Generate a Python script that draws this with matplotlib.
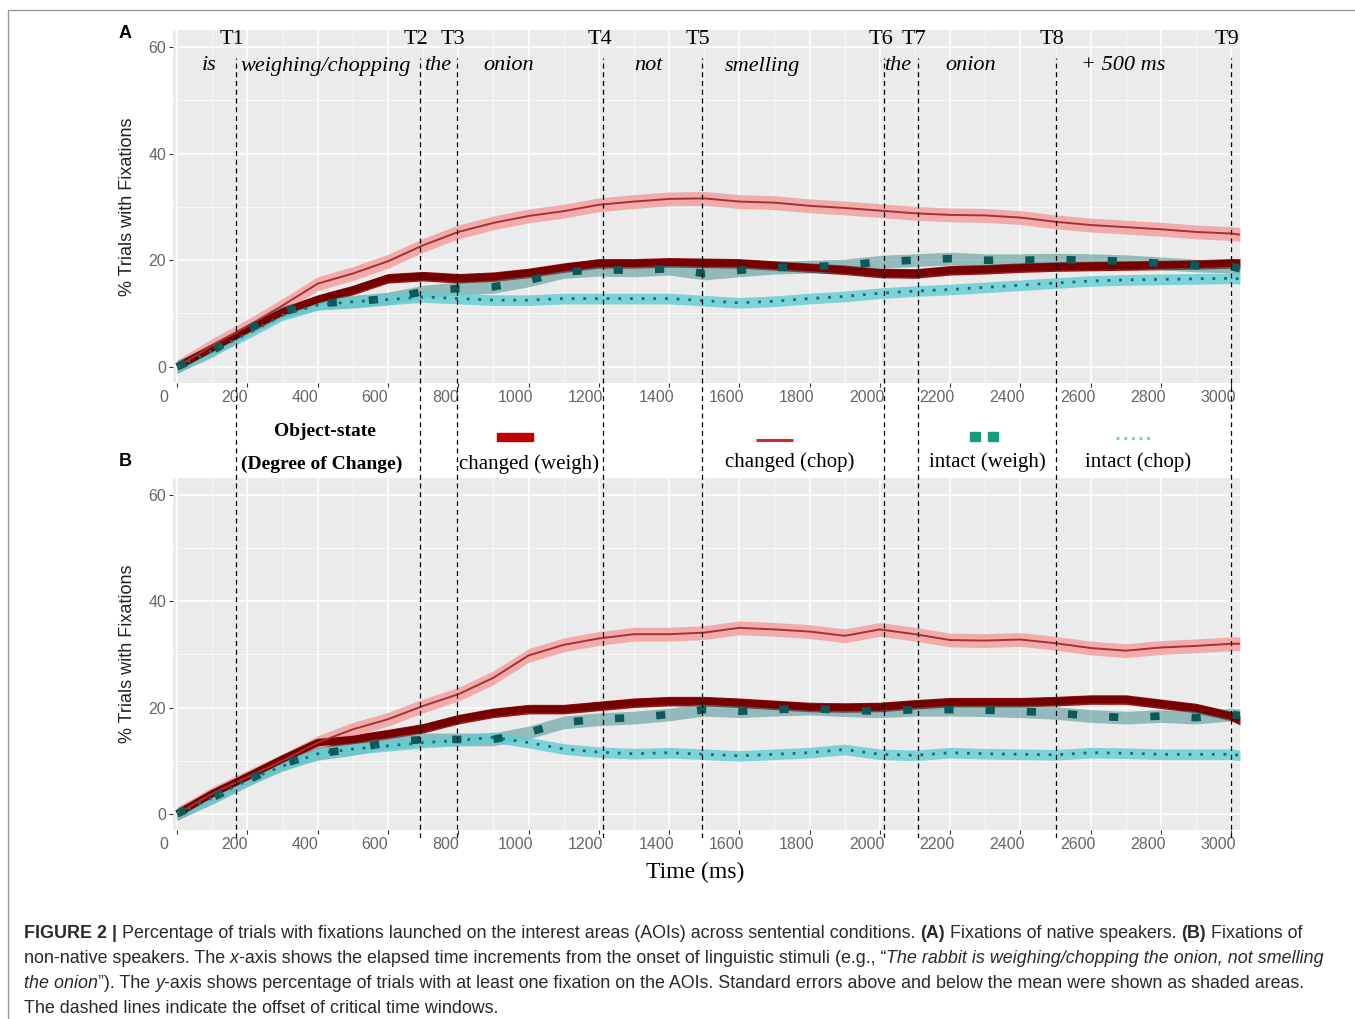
import matplotlib
matplotlib.use("Agg")
import matplotlib.pyplot as plt
import matplotlib.transforms as mtransforms
from matplotlib.patches import Rectangle

W, H = 1355, 1019

# time axis (ms)
time_ms = [0, 100, 200, 300, 400, 500, 600, 700, 800, 900, 1000, 1100, 1200, 1300,
           1400, 1500, 1600, 1700, 1800, 1900, 2000, 2100, 2200, 2300, 2400, 2500,
           2600, 2700, 2800, 2900, 3000, 3025]

# Panel A - native speakers (% trials with fixations)
a_changed_weigh = [0, 3.5, 7.0, 10.3, 12.6, 14.4, 16.6, 17.0, 16.6, 16.9, 17.6, 18.6, 19.4, 19.4,
                   19.6, 19.5, 19.4, 19.0, 18.6, 18.2, 17.6, 17.5, 18.1, 18.3, 18.6, 18.8,
                   18.9, 19.0, 19.1, 19.2, 19.4, 19.4]
a_changed_chop = [0, 4.0, 7.6, 11.5, 15.6, 17.5, 19.8, 22.8, 25.3, 27.0, 28.3, 29.2, 30.4, 31.0,
                  31.5, 31.6, 31.0, 30.8, 30.2, 29.8, 29.3, 28.8, 28.5, 28.4, 28.0, 27.2,
                  26.6, 26.2, 25.8, 25.3, 25.0, 24.8]
a_intact_weigh = [0, 3.0, 6.9, 10.3, 11.9, 12.2, 12.8, 14.1, 14.7, 15.0, 16.2, 17.8, 18.2, 18.1,
                  18.4, 17.5, 18.1, 18.6, 18.8, 19.0, 19.7, 20.0, 20.3, 20.0, 20.0, 20.1,
                  20.0, 19.8, 19.4, 19.0, 18.8, 18.4]
a_intact_chop = [0, 3.0, 6.2, 9.7, 11.6, 12.2, 12.6, 13.1, 12.8, 12.5, 12.5, 12.8, 12.8, 12.8,
                 12.8, 12.4, 12.0, 12.3, 12.8, 13.2, 13.8, 14.2, 14.5, 14.9, 15.3, 15.7,
                 16.1, 16.3, 16.4, 16.5, 16.6, 16.5]

# Panel B - non-native speakers
b_changed_weigh = [0, 3.8, 7.0, 10.3, 13.4, 14.0, 15.0, 16.1, 17.8, 19.0, 19.7, 19.7, 20.3, 20.9,
                   21.2, 21.2, 20.9, 20.5, 20.1, 20.0, 20.1, 20.6, 21.0, 21.0, 21.0, 21.2,
                   21.5, 21.5, 20.7, 19.9, 18.4, 17.6]
b_changed_chop = [0, 3.8, 6.9, 10.0, 13.4, 15.9, 17.8, 20.3, 22.5, 25.6, 29.8, 31.8, 33.0, 33.8,
                  33.8, 34.1, 35.0, 34.7, 34.3, 33.5, 34.7, 33.8, 32.7, 32.6, 32.8, 32.1,
                  31.2, 30.7, 31.3, 31.6, 32.0, 32.0]
b_intact_weigh = [0, 3.0, 6.3, 9.4, 11.3, 12.2, 13.4, 14.0, 14.0, 14.0, 15.3, 17.2, 17.8, 18.1,
                  18.7, 19.6, 19.3, 19.6, 19.8, 19.5, 19.3, 19.6, 19.6, 19.5, 19.3, 19.0,
                  18.4, 18.1, 18.4, 18.1, 18.7, 18.5]
b_intact_chop = [0, 3.0, 6.3, 9.0, 11.3, 12.2, 12.8, 13.4, 13.8, 14.4, 13.4, 12.2, 11.6, 11.3,
                 11.5, 11.2, 10.9, 11.2, 11.5, 12.1, 11.2, 11.0, 11.5, 11.3, 11.2, 11.1,
                 11.5, 11.4, 11.2, 11.2, 11.2, 11.0]

# standard errors (half width of shaded band)
se = {"changed (weigh)": 0.9, "changed (chop)": 1.3, "intact (weigh)": 1.2, "intact (chop)": 1.0}

series_names = ["changed (weigh)", "changed (chop)", "intact (weigh)", "intact (chop)"]
panel_a = [a_changed_weigh, a_changed_chop, a_intact_weigh, a_intact_chop]
panel_b = [b_changed_weigh, b_changed_chop, b_intact_weigh, b_intact_chop]

# critical time windows (offsets, ms) and sentence words
window_ms = [166, 690, 796, 1213, 1494, 2013, 2109, 2502, 2998]
window_labels = ["T1", "T2", "T3", "T4", "T5", "T6", "T7", "T8", "T9"]
words = ["is", "weighing/chopping", "the", "onion", "not", "smelling", "the", "onion", "+ 500 ms"]
word_ms = [92, 422, 741, 943, 1341, 1665, 2049, 2257, 2692]

styles = {
    "changed (weigh)": dict(band="#8b0000", balpha=0.9, color="#760000", lw=5.2, ls="-"),
    "changed (chop)": dict(band="#f4a0a0", balpha=0.85, color="#a53232", lw=1.4, ls="-"),
    "intact (weigh)": dict(band="#3a8a8a", balpha=0.5, color="#0d5858", lw=5.5, ls=(0, (1.2, 4.2))),
    "intact (chop)": dict(band="#5fcdd3", balpha=0.8, color="#1d6b6b", lw=2.0, ls=(0, (1, 3.2))),
}

XLIM = (-12, 3025)
YLIM = (-3.05, 63.2)
serif = ["Liberation Serif", "DejaVu Serif"]
sans = ["Liberation Sans", "DejaVu Sans"]


def fx(px):
    return px / W


def fy(py):
    return 1 - py / H


fig = plt.figure(figsize=(W / 100, H / 100), dpi=100)
fig.patch.set_facecolor("white")

left, right = 173, 1240
panels = [(30, 383, panel_a), (478, 830, panel_b)]
axes = []
for top, bot, data in panels:
    ax = fig.add_axes([fx(left), fy(bot), fx(right) - fx(left), fy(top) - fy(bot)])
    ax.set_facecolor("#ebebeb")
    for name, vals in zip(series_names, data):
        st = styles[name]
        lo = [v - se[name] for v in vals]
        hi = [v + se[name] for v in vals]
        ax.fill_between(time_ms, lo, hi, color=st["band"], alpha=st["balpha"], lw=0)
        ax.plot(time_ms, vals, color=st["color"], lw=st["lw"], ls=st["ls"],
                solid_capstyle="butt")
    ax.set_xlim(*XLIM)
    ax.set_ylim(*YLIM)
    ax.set_xticks(range(0, 3001, 200))
    ax.set_xticks(range(100, 3001, 200), minor=True)
    ax.set_yticks([0, 20, 40, 60])
    ax.set_yticks([10, 30, 50], minor=True)
    ax.grid(which="major", color="white", lw=1.1)
    ax.grid(which="minor", color="white", lw=0.5)
    ax.set_axisbelow(True)
    for s in ax.spines.values():
        s.set_visible(False)
    ax.tick_params(which="major", length=3, width=0.8, color="#333333",
                   labelcolor="#666666", labelsize=11.5, pad=2)
    ax.tick_params(which="minor", length=0)
    for lab in ax.get_xticklabels():
        lab.set_fontfamily(sans)
    for lab in ax.get_yticklabels():
        lab.set_fontfamily(sans)
    ax.set_ylabel("% Trials with Fixations", fontsize=13, color="#222222",
                  family=sans, labelpad=9)
    # labels sit a little left of their tick marks in the original
    off = mtransforms.ScaledTranslation(-13 / 100, 0, fig.dpi_scale_trans)
    for lab in ax.get_xticklabels():
        lab.set_transform(lab.get_transform() + off)
    axes.append(ax)

# dashed window lines across both panels
ax_v = fig.add_axes([fx(left), fy(838), fx(right) - fx(left), fy(58) - fy(838)], zorder=5)
ax_v.patch.set_visible(False)
ax_v.axis("off")
ax_v.set_xlim(*XLIM)
ax_v.set_ylim(0, 1)
ax_v.vlines(window_ms, 0, 1, colors="black", lw=0.9, linestyles=(0, (4, 3)))

blend = mtransforms.blended_transform_factory(ax_v.transData, fig.transFigure)
for t, lab in zip(window_ms, window_labels):
    ax_v.text(t - 11, fy(40), lab, transform=blend, ha="center", va="center",
              fontsize=16, family=serif)
for t, w in zip(word_ms, words):
    ax_v.text(t, fy(66), w, transform=blend, ha="center", va="center",
              fontsize=16, family=serif, style="italic")

# overlay in pixel coordinates for legend, panel tags, caption and frame
ax_f = fig.add_axes([0, 0, 1, 1], zorder=6)
ax_f.patch.set_visible(False)
ax_f.axis("off")
ax_f.set_xlim(0, W)
ax_f.set_ylim(H, 0)

ax_f.plot([8, 8, W], [H, 10, 10], color="#9a9a9a", lw=1)

ax_f.text(125, 33, "A", ha="center", va="center", fontsize=13, weight="bold", family=sans)
ax_f.text(125, 462, "B", ha="center", va="center", fontsize=13, weight="bold", family=sans)

ax_f.text(325, 431, "Object-state", ha="center", va="center", fontsize=14,
          weight="bold", family=serif)
ax_f.text(322, 464, "(Degree of Change)", ha="center", va="center", fontsize=14,
          weight="bold", family=serif)

key_color = {"changed (weigh)": "#c00000", "changed (chop)": "#d0282a",
             "intact (weigh)": "#179c7d", "intact (chop)": "#80d6c4"}
label_pos = {"changed (weigh)": (529, 464), "changed (chop)": (790, 462),
             "intact (weigh)": (987, 462), "intact (chop)": (1138, 462)}
ax_f.add_patch(Rectangle((497, 433), 36, 8, color=key_color["changed (weigh)"]))
ax_f.plot([756, 793], [440, 440], color=key_color["changed (chop)"], lw=2.2,
          solid_capstyle="butt")
ax_f.add_patch(Rectangle((970, 432), 10, 9, color=key_color["intact (weigh)"]))
ax_f.add_patch(Rectangle((988, 432), 10, 9, color=key_color["intact (weigh)"]))
ax_f.plot([1116, 1150], [438, 438], color=key_color["intact (chop)"], lw=2.2,
          ls=(0, (1, 1.5)))
for name in series_names:
    x, y = label_pos[name]
    ax_f.text(x, y, name, ha="center", va="center", fontsize=15, family=serif)

ax_f.text(695, 872, "Time (ms)", ha="center", va="center", fontsize=17, family=serif)

# caption with mixed styles
renderer = fig.canvas.get_renderer()
cap_font = dict(fontsize=12.9, family=["Liberation Sans", "DejaVu Sans"], color="#2a2a2a")


def width_of(s, **kw):
    t1 = ax_f.text(0, 0, s + "|", **kw)
    t2 = ax_f.text(0, 0, "|", **kw)
    w = t1.get_window_extent(renderer).width - t2.get_window_extent(renderer).width
    t1.remove()
    t2.remove()
    return w


def caption_line(y, parts):
    x = 24
    for s, sty in parts:
        kw = dict(cap_font)
        if "b" in sty:
            kw["weight"] = "bold"
        if "i" in sty:
            kw["style"] = "italic"
        ax_f.text(x, y, s, va="baseline", ha="left", **kw)
        x += width_of(s, **kw)


caption_line(938, [("FIGURE 2 | ", "b"),
                   ("Percentage of trials with fixations launched on the interest areas (AOIs) "
                    "across sentential conditions. ", ""),
                   ("(A)", "b"), (" Fixations of native speakers. ", ""),
                   ("(B)", "b"), (" Fixations of", "")])
caption_line(963, [("non-native speakers. The ", ""), ("x", "i"),
                   ("-axis shows the elapsed time increments from the onset of linguistic "
                    "stimuli (e.g., \u201c", ""),
                   ("The rabbit is weighing/chopping the onion, not smelling", "i")])
caption_line(988, [("the onion", "i"),
                   ("\u201d). The ", ""), ("y", "i"),
                   ("-axis shows percentage of trials with at least one fixation on the AOIs. "
                    "Standard errors above and below the mean were shown as shaded areas.", "")])
caption_line(1013, [("The dashed lines indicate the offset of critical time windows.", "")])

fig.savefig("out.png", dpi=100)
